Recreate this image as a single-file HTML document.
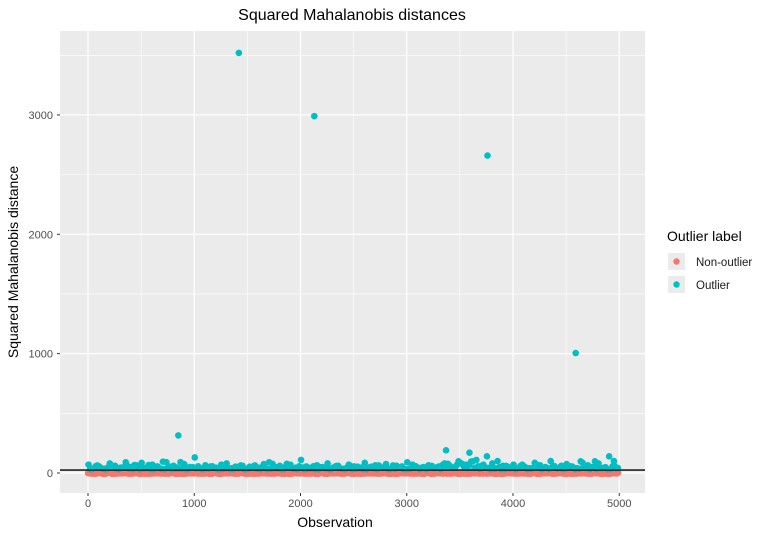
<!DOCTYPE html>
<html><head><meta charset="utf-8"><style>
body{margin:0;background:#fff;font-family:"Liberation Sans",sans-serif;}
</style></head><body>
<svg width="769" height="538" xmlns="http://www.w3.org/2000/svg" font-family="Liberation Sans, sans-serif">
<text x="352" y="20" font-size="16" text-anchor="middle" fill="#000">Squared Mahalanobis distances</text>
<rect x="60" y="31" width="585" height="462" fill="#ebebeb"/>
<g id="grid"></g>
<g id="pts"></g>
<g id="axes"></g>
<text x="335" y="527" font-size="14" text-anchor="middle">Observation</text>
<text transform="translate(18,262) rotate(-90)" font-size="14" text-anchor="middle">Squared Mahalanobis distance</text>
<text x="667" y="241" font-size="14">Outlier label</text>
<g>
<rect x="668" y="253" width="17" height="17" fill="#ebebeb"/><circle cx="676.5" cy="261.5" r="3.2" fill="#F8766D"/>
<text x="696" y="266" font-size="11.5" fill="#1a1a1a">Non-outlier</text></g>
<g>
<rect x="668" y="276" width="17" height="17" fill="#ebebeb"/><circle cx="676.5" cy="284.5" r="3.2" fill="#00BFC4"/>
<text x="696" y="289" font-size="11.5" fill="#1a1a1a">Outlier</text></g>
</svg>
<script>
const xTicks=[0,1000,2000,3000,4000,5000];
const yTicks=[0,1000,2000,3000];
const outStep=50;
const outVals=[70,40,55,35,80,60,45,90,50,65,85,40,70,55,95,45,60,35,75,50,130,40,65,55,45,70,80,40,50,60,35,55,45,75,90,40,60,50,70,45,110,55,40,65,50,80,45,60,35,70,55,40,85,50,65,45,75,40,60,55,90,70,45,50,65,40,55,80,60,45,85,70,95,110,60,140,80,100,60,50,70,45,55,40,85,65,50,100,45,60,75,55,40,85,65,50,80,45,140,60];
const specialObs=[850,1420,2130,3370,3590,3760,4590,4950];
const specialVals=[315,3520,2990,190,170,2660,1005,100];
const nonVals=[12,5,18,8,15,3,20,10,6,14,9,17,4,11,19,7,13,2,16,10,8,18,5,12,15,3,20,9,6,14,11,17,4,13,19,7,10,2,16,12,8,18,5,15,11,3,20,9,6,14,13,17,4,10,19,7,12,2,16,11,8,18,5,15,13,3,20,9,6,14,10,17,4,12,19,7,11,2,16,13,8,18,5,15,10,3,20,9,6,14,12,17,4,11,19,7,13,2,16,10];
const cut=25;
const X=v=>88+v*0.10625, Y=v=>473-v*0.11935;
const ns="http://www.w3.org/2000/svg";
function mk(p,t,a){const e=document.createElementNS(ns,t);for(const k in a)e.setAttribute(k,a[k]);p.appendChild(e);return e;}
const g=document.getElementById('grid'),pg=document.getElementById('pts'),ax=document.getElementById('axes');
[500,1500,2500,3500].forEach(v=>{const l=mk(g,'line',{x1:60,x2:645,y1:Y(v),y2:Y(v),stroke:'#fff','stroke-width':0.6});

});
[500,1500,2500,3500,4500].forEach(v=>{const l=mk(g,'line',{x1:X(v),x2:X(v),y1:31,y2:493,stroke:'#fff','stroke-width':0.6});

});
yTicks.forEach(v=>{const l=mk(g,'line',{x1:60,x2:645,y1:Y(v),y2:Y(v),stroke:'#fff','stroke-width':1.2});


const t=mk(ax,'text',{x:53,y:Y(v)+4,'font-size':11,'text-anchor':'end',fill:'#4d4d4d'});t.textContent=v;


mk(ax,'line',{x1:57,x2:60,y1:Y(v),y2:Y(v),stroke:'#333'});});
xTicks.forEach(v=>{const l=mk(g,'line',{x1:X(v),x2:X(v),y1:31,y2:493,stroke:'#fff','stroke-width':1.2});


const t=mk(ax,'text',{x:X(v),y:507,'font-size':11,'text-anchor':'middle',fill:'#4d4d4d'});t.textContent=v;


mk(ax,'line',{x1:X(v),x2:X(v),y1:493,y2:496,stroke:'#333'});});
for(let i=0;i<nonVals.length;i++){for(let k=0;k<6;k++){const o=i*50+k*8;const v=nonVals[(i+k*7)%nonVals.length]*0.6;
const c=mk(pg,'circle',{cx:X(o),cy:Y(v)+1,r:3.2,fill:'#F8766D'});

}}
outVals.forEach((v,i)=>{for(let k=0;k<3;k++){const o=i*outStep+k*16+5;const vv=k==0?v:Math.max(32,outVals[(i+3*k)%outVals.length]*0.7);
const c=mk(pg,'circle',{cx:X(o),cy:Y(vv),r:3.3,fill:'#00BFC4'});

}});
specialObs.forEach((o,i)=>{const c=mk(pg,'circle',{cx:X(o),cy:Y(specialVals[i]),r:3.3,fill:'#00BFC4'});

});
const h=mk(pg,'line',{x1:60,x2:645,y1:Y(cut),y2:Y(cut),stroke:'#222','stroke-width':1.6});


</script>
</body></html>
